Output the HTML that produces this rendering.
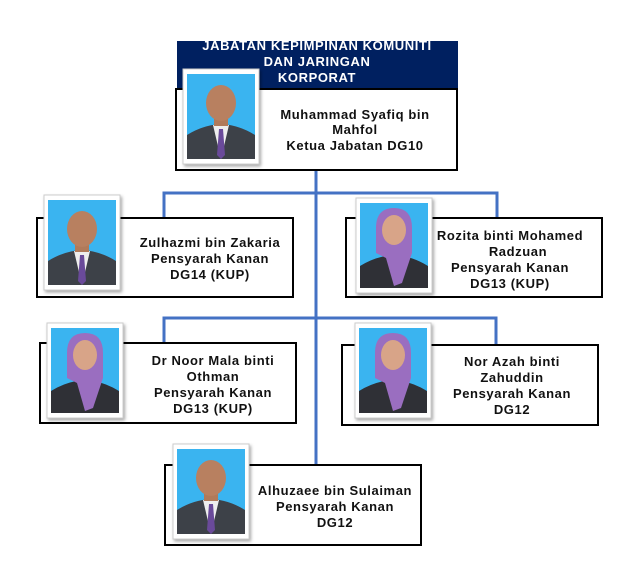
<!DOCTYPE html>
<html><head><meta charset="utf-8"><style>
html,body{margin:0;padding:0;background:#fff;}
svg text{font-family:"Liberation Sans",Arial,sans-serif;font-weight:bold;font-size:13px;fill:#111;letter-spacing:0.6px;}
</style></head><body>
<svg width="624" height="571" viewBox="0 0 624 571" xmlns="http://www.w3.org/2000/svg">
<defs>
<filter id="sh" x="-10%" y="-10%" width="130%" height="130%"><feDropShadow dx="1.5" dy="2" stdDeviation="1.5" flood-color="#000" flood-opacity="0.35"/></filter>
<g id="man">
<rect x="0" y="0" width="76" height="95" fill="#fff" stroke="#ccc" filter="url(#sh)"/>
<rect x="4" y="5" width="68" height="85" fill="#3ab4f0"/>
<path d="M4 90 L4 66 Q20 56 38 55 Q56 56 72 66 L72 90Z" fill="#3d4148"/>
<path d="M30 56 L38 90 L46 56Z" fill="#eee"/>
<path d="M36 60 L40 60 L42 86 L38 90 L34 86Z" fill="#6a4a9a"/>
<rect x="31" y="45" width="14" height="12" fill="#b07a5a"/>
<ellipse cx="38" cy="34" rx="15" ry="18" fill="#b88060"/>
</g>
<g id="woman">
<rect x="0" y="0" width="76" height="95" fill="#fff" stroke="#ccc" filter="url(#sh)"/>
<rect x="4" y="5" width="68" height="85" fill="#3ab4f0"/>
<path d="M4 90 L4 68 Q20 58 38 57 Q56 58 72 68 L72 90Z" fill="#2f3036"/>
<path d="M20 30 Q20 10 38 10 Q56 10 56 30 L56 55 L46 85 L38 88 L30 60 L20 55Z" fill="#9a6ec0"/>
<ellipse cx="38" cy="32" rx="12" ry="15" fill="#d8a488"/>
</g>
</defs>

<!-- connectors -->
<g stroke="#4472c4" stroke-width="3" fill="none">
<line x1="316" y1="170" x2="316" y2="465"/>
<polyline points="164,217 164,193 497,193 497,217"/>
<polyline points="164,343 164,318 496,318 496,345"/>
</g>

<!-- title -->
<rect x="177" y="41" width="281" height="47" fill="#002060"/>
<g style="fill:#fff">
<text x="317" y="50" text-anchor="middle" style="fill:#fff">JABATAN KEPIMPINAN KOMUNITI</text>
<text x="317" y="66" text-anchor="middle" style="fill:#fff">DAN  JARINGAN</text>
<text x="317" y="82" text-anchor="middle" style="fill:#fff">KORPORAT</text>
</g>

<!-- boxes -->
<g fill="#fff" stroke="#000" stroke-width="2">
<rect x="176" y="89" width="281" height="81"/>
<rect x="37" y="218" width="256" height="79"/>
<rect x="346" y="218" width="256" height="79"/>
<rect x="40" y="343" width="256" height="80"/>
<rect x="342" y="345" width="256" height="80"/>
<rect x="165" y="465" width="256" height="80"/>
</g>

<!-- photos -->
<use href="#man" x="183" y="69"/>
<use href="#man" x="44" y="195"/>
<use href="#woman" x="356" y="198"/>
<use href="#woman" x="47" y="323"/>
<use href="#woman" x="355" y="323"/>
<use href="#man" x="173" y="444"/>

<!-- labels -->
<text x="355" y="119" text-anchor="middle">Muhammad Syafiq bin</text>
<text x="355" y="134" text-anchor="middle">Mahfol</text>
<text x="355" y="150" text-anchor="middle">Ketua Jabatan DG10</text>

<text x="210" y="247" text-anchor="middle">Zulhazmi bin Zakaria</text>
<text x="210" y="263" text-anchor="middle">Pensyarah Kanan</text>
<text x="210" y="279" text-anchor="middle">DG14 (KUP)</text>

<text x="510" y="240" text-anchor="middle">Rozita binti Mohamed</text>
<text x="518" y="256" text-anchor="middle">Radzuan</text>
<text x="510" y="272" text-anchor="middle">Pensyarah Kanan</text>
<text x="510" y="288" text-anchor="middle">DG13 (KUP)</text>

<text x="213" y="365" text-anchor="middle">Dr Noor Mala binti</text>
<text x="213" y="381" text-anchor="middle">Othman</text>
<text x="213" y="397" text-anchor="middle">Pensyarah Kanan</text>
<text x="213" y="413" text-anchor="middle">DG13 (KUP)</text>

<text x="512" y="366" text-anchor="middle">Nor Azah binti</text>
<text x="512" y="382" text-anchor="middle">Zahuddin</text>
<text x="512" y="398" text-anchor="middle">Pensyarah Kanan</text>
<text x="512" y="414" text-anchor="middle">DG12</text>

<text x="335" y="495" text-anchor="middle">Alhuzaee bin Sulaiman</text>
<text x="335" y="511" text-anchor="middle">Pensyarah Kanan</text>
<text x="335" y="527" text-anchor="middle">DG12</text>
</svg>
</body></html>
